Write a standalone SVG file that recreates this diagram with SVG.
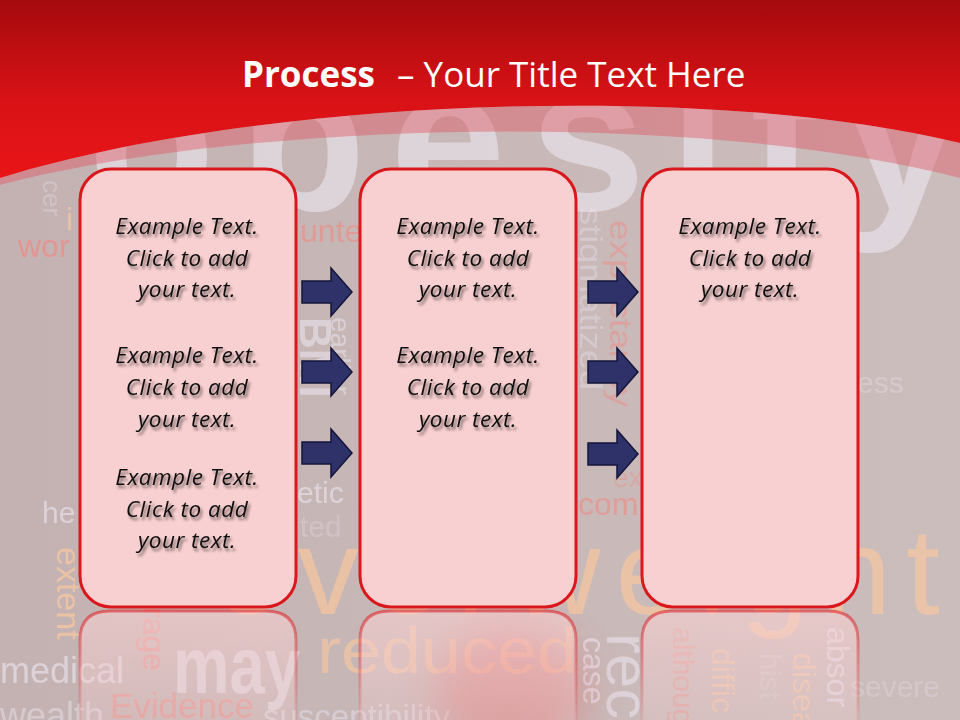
<svg xmlns="http://www.w3.org/2000/svg" width="960" height="720" viewBox="0 0 960 720">
<defs>
<style>
.bw{font-family:"Liberation Sans",Arial,sans-serif}
.lav{fill:#ece8f2}
.org{fill:#f8c8a0}
.red{fill:#f08a82}
.body{font-family:"Open Sans","Noto Sans",sans-serif;font-style:italic;font-size:22.5px;letter-spacing:0.5px;fill:#111;text-anchor:middle}
.box{fill:#f9d0d1;stroke:#da171c;stroke-width:3}
.arrow{fill:#2f3268;stroke:#15163a;stroke-width:1.5;stroke-linejoin:miter}
.refl{fill:url(#reflFill)}
.reflEdge{fill:none;stroke:url(#reflStroke);stroke-width:3}
</style>
<linearGradient id="bg" x1="0" y1="0" x2="1" y2="0">
<stop offset="0" stop-color="#c4b2b2"/><stop offset="1" stop-color="#ccbdbd"/>
</linearGradient>
<linearGradient id="hdr" x1="0" y1="0" x2="0" y2="180" gradientUnits="userSpaceOnUse">
<stop offset="0" stop-color="#a50a0d"/><stop offset="0.55" stop-color="#d81216"/><stop offset="1" stop-color="#ea1517"/>
</linearGradient>
<linearGradient id="reflFill" x1="0" y1="610" x2="0" y2="720" gradientUnits="userSpaceOnUse">
<stop offset="0" stop-color="#f9d0d1" stop-opacity="0.6"/><stop offset="1" stop-color="#f9d0d1" stop-opacity="0.25"/>
</linearGradient>
<linearGradient id="reflStroke" x1="0" y1="610" x2="0" y2="720" gradientUnits="userSpaceOnUse">
<stop offset="0" stop-color="#da171c" stop-opacity="0.55"/><stop offset="1" stop-color="#da171c" stop-opacity="0.08"/>
</linearGradient>
<filter id="ts" x="-15%" y="-40%" width="135%" height="190%">
<feGaussianBlur in="SourceAlpha" stdDeviation="1.6" result="bl"/>
<feOffset in="bl" dx="2" dy="3" result="of"/>
<feComponentTransfer in="of" result="sh"><feFuncA type="linear" slope="0.55"/></feComponentTransfer>
<feMerge><feMergeNode in="sh"/><feMergeNode in="SourceGraphic"/></feMerge>
</filter>
<filter id="glow" x="-60%" y="-60%" width="220%" height="220%"><feGaussianBlur stdDeviation="20"/></filter>
<path id="arr" d="M0,-11 H29 V-24 L50,0 L29,24 V11 H0 Z"/>
</defs>

<g id="background">
<rect width="960" height="720" fill="url(#bg)"/>
<g class="bw">
<text x="88" y="210" font-size="208" font-weight="bold" class="lav" opacity="0.6" textLength="872" lengthAdjust="spacing">obesity</text>
<text x="215" y="614" font-size="122" class="org" opacity="0.7" textLength="725" lengthAdjust="spacing">overweight</text>
<text x="18" y="257" font-size="32" class="red" opacity="0.7">wor</text>
<text x="66" y="230" font-size="32" class="org" opacity="0.7">i</text>
<text transform="translate(43,180) rotate(90)" font-size="26" class="lav" opacity="0.3">cer</text>
<text x="300" y="242" font-size="32" class="red" opacity="0.6">unte</text>
<text transform="translate(300,317) rotate(90)" font-size="44" font-weight="bold" class="lav" opacity="0.55">BMI</text>
<text transform="translate(331,317) rotate(90)" font-size="28" class="lav" opacity="0.5">earlier</text>
<text transform="translate(580,207) rotate(90)" font-size="32" class="lav" opacity="0.35" textLength="183" lengthAdjust="spacingAndGlyphs">stigmatized</text>
<text transform="translate(610,220) rotate(90)" font-size="32" class="red" opacity="0.45" textLength="187" lengthAdjust="spacingAndGlyphs">expectancy</text>
<text x="857" y="393" font-size="30" class="lav" opacity="0.3">ess</text>
<text x="42" y="523" font-size="30" class="lav" opacity="0.6">he</text>
<text x="297" y="503" font-size="30" class="lav" opacity="0.6">etic</text>
<text x="300" y="537" font-size="30" class="lav" opacity="0.25">ted</text>
<text x="613" y="487" font-size="28" class="red" opacity="0.35">ex</text>
<text x="578" y="515" font-size="32" class="red" opacity="0.6">com</text>
<text transform="translate(57,547) rotate(90)" font-size="34" class="org" opacity="0.75">extent</text>
<text transform="translate(143,607) rotate(90)" font-size="32" class="red" opacity="0.65">rage</text>
<text x="0" y="683" font-size="36" class="lav" opacity="0.6">medical</text>
<text x="173" y="693" font-size="80" font-weight="bold" class="lav" opacity="0.55" textLength="127" lengthAdjust="spacingAndGlyphs">may</text>
<text x="317" y="673" font-size="64" class="org" opacity="0.65" textLength="260" lengthAdjust="spacingAndGlyphs">reduced</text>
<text x="110" y="718" font-size="35" class="red" opacity="0.6">Evidence</text>
<text x="0" y="728" font-size="36" class="lav" opacity="0.45">wealth</text>
<text x="263" y="728" font-size="33" class="lav" opacity="0.45">susceptibility</text>
<text transform="translate(583,637) rotate(90)" font-size="32" class="lav" opacity="0.6">case</text>
<text transform="translate(607,633) rotate(90)" font-size="62" class="lav" opacity="0.55">rec</text>
<text transform="translate(673,627) rotate(90)" font-size="30" class="red" opacity="0.45">although</text>
<text transform="translate(712,648) rotate(90)" font-size="32" class="org" opacity="0.6">diffic</text>
<text transform="translate(760,653) rotate(90)" font-size="30" class="lav" opacity="0.2">hist</text>
<text transform="translate(793,653) rotate(90)" font-size="32" class="org" opacity="0.65">disea</text>
<text transform="translate(827,627) rotate(90)" font-size="32" class="lav" opacity="0.55">absor</text>
<text x="850" y="697" font-size="30" class="lav" opacity="0.25">severe</text>
</g>
<ellipse cx="510" cy="690" rx="75" ry="70" fill="#f04444" opacity="0.3" filter="url(#glow)"/>
<path d="M0,178 C250,100 700,80 960,143 L960,178 C700,110 250,120 0,185 Z" fill="#e0505c" opacity="0.42"/>
<path d="M0,0 H960 V143 C700,80 250,100 0,178 Z" fill="url(#hdr)"/>
</g>

<g id="title">
<text y="87" font-family="'Open Sans','Noto Sans',sans-serif" font-size="35" fill="#ffffff"><tspan x="242" font-weight="bold">Process</tspan><tspan x="397">– Your Title Text Here</tspan></text>
</g>

<g id="reflections">
<path class="refl" d="M80,640 Q80,611 110,611 H266 Q296,611 296,640 V722 H80 Z"/>
<path class="reflEdge" d="M80,722 V640 Q80,611 110,611 H266 Q296,611 296,640 V722"/>
<path class="refl" d="M360,640 Q360,611 390,611 H546 Q576,611 576,640 V722 H360 Z"/>
<path class="reflEdge" d="M360,722 V640 Q360,611 390,611 H546 Q576,611 576,640 V722"/>
<path class="refl" d="M642,640 Q642,611 672,611 H828 Q858,611 858,640 V722 H642 Z"/>
<path class="reflEdge" d="M642,722 V640 Q642,611 672,611 H828 Q858,611 858,640 V722"/>
</g>

<g id="box1">
<rect class="box" x="80" y="169" width="216" height="438" rx="31"/>
<g class="body" filter="url(#ts)">
<text x="187" y="234">Example Text.</text>
<text x="187" y="266">Click  to add</text>
<text x="187" y="297">your text.</text>
<text x="187" y="363">Example Text.</text>
<text x="187" y="395">Click  to add</text>
<text x="187" y="427">your text.</text>
<text x="187" y="485">Example Text.</text>
<text x="187" y="517">Click  to add</text>
<text x="187" y="548">your text.</text>
</g>
</g>

<g id="box2">
<rect class="box" x="360" y="169" width="216" height="438" rx="31"/>
<g class="body" filter="url(#ts)">
<text x="468" y="234">Example Text.</text>
<text x="468" y="266">Click  to add</text>
<text x="468" y="297">your text.</text>
<text x="468" y="363">Example Text.</text>
<text x="468" y="395">Click  to add</text>
<text x="468" y="427">your text.</text>
</g>
</g>

<g id="box3">
<rect class="box" x="642" y="169" width="216" height="438" rx="31"/>
<g class="body" filter="url(#ts)">
<text x="750" y="234">Example Text.</text>
<text x="750" y="266">Click  to add</text>
<text x="750" y="297">your text.</text>
</g>
</g>

<g id="connectors">
<use href="#arr" class="arrow" x="302" y="292"/>
<use href="#arr" class="arrow" x="302" y="372"/>
<use href="#arr" class="arrow" x="302" y="453"/>
<use href="#arr" class="arrow" x="588" y="292"/>
<use href="#arr" class="arrow" x="588" y="372"/>
<use href="#arr" class="arrow" x="588" y="454"/>
</g>
</svg>
